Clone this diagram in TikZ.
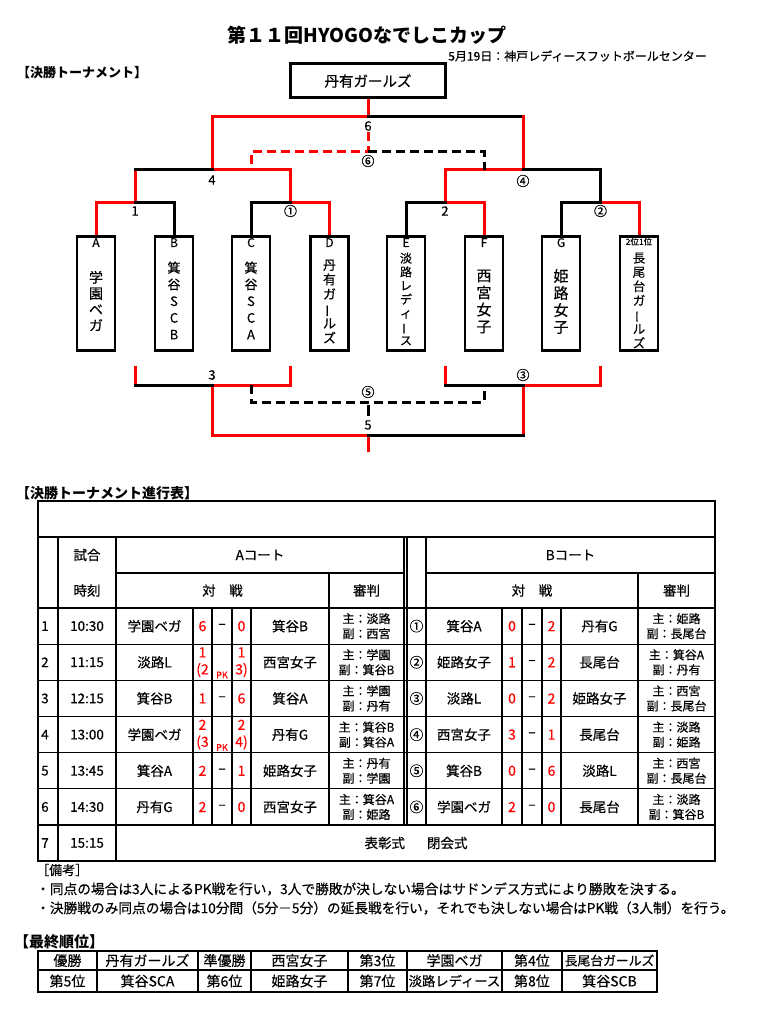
\documentclass[tikz,border=0pt]{standalone}
\usepackage{fontspec}
\setmainfont{Noto Sans CJK JP}[UprightFeatures={FakeBold=0.4}]
\usepackage{xcolor}
\usepackage{tikz}
\newcommand{\fsz}[2]{\fontsize{#1}{#2}\selectfont}
\newcommand{\vcho}{\rotatebox[origin=c]{90}{ー}}

\begin{document}
\begin{tikzpicture}[x=1pt, y=-1pt,
    win/.style={draw=red, line width=3pt, line cap=rect},
    lose/.style={draw=black, line width=3pt, line cap=rect},
    windash/.style={draw=red, line width=3pt, dash pattern=on 9pt off 5pt},
    losedash/.style={draw=black, line width=3pt, dash pattern=on 9pt off 5pt},
    team/.style={draw, line width=2.8pt, minimum width=38pt, minimum height=114pt, inner sep=0pt},
    vname/.style={align=center, inner sep=0pt},
    lbl/.style={inner sep=0pt, font=\fsz{13}{13}},
    cell/.style={inner sep=0pt, align=center, font=\fsz{13.5}{16}},
    score/.style={cell, text=red, font=\fsz{14}{17}},
    refc/.style={inner sep=0pt, align=center, font=\fsz{12}{15}},
    head/.style={inner sep=0pt, anchor=west},
    note/.style={inner sep=0pt, anchor=west, font=\fsz{13.7}{13.7}},
    frame/.style={line width=2.5pt},
    grid/.style={line width=1.2pt}]

\useasboundingbox (0,0) rectangle (761,1024);

\node[font=\bfseries\fsz{19}{19}] (title) at (367,35) {第１１回HYOGOなでしこカップ};
\node[anchor=east, inner sep=0pt, font=\fsz{12}{12}] (place) at (707,56) {5月19日：神戸レディースフットボールセンター};
\node[head, font=\bfseries\fsz{13}{13}] (hbrk) at (17,73) {【決勝トーナメント】};

\node[draw, line width=3pt, minimum width=155pt, minimum height=34pt, font=\fsz{14.5}{14.5}] (champ) at (368,81) {丹有ガールズ};

\foreach \nm/\x in {A/96, B/174, C/251, D/329.5, E/406, F/484, G/561, H/639}
    \node[team] (t\nm) at (\x,293.5) {};
\foreach \nm in {A,...,G}
    \node[lbl, font=\fsz{12}{12}] (l\nm) at ([yshift=-7.5pt]t\nm.north) {\nm};
\node[lbl, font=\fsz{8.5}{8.5}] (lH) at ([yshift=-6.5pt]tH.north) {2位1位};

\node[vname, font=\fsz{14}{16}] (nA) at (96,301) {学\\園\\ベ\\ガ};
\node[vname, font=\fsz{13}{16.7}] (nB) at (174,300.5) {箕\\谷\\S\\C\\B};
\node[vname, font=\fsz{13}{16.7}] (nC) at (251,300.5) {箕\\谷\\S\\C\\A};
\node[vname, font=\fsz{13}{14.6}] (nD) at (329.5,301.5) {丹\\有\\ガ\\\vcho\\ル\\ズ};
\node[vname, font=\fsz{12}{13.7}] (nE) at (406,299) {淡\\路\\レ\\デ\\ィ\\\vcho\\ス};
\node[vname, font=\fsz{15}{17}] (nF) at (484,301.5) {西\\宮\\女\\子};
\node[vname, font=\fsz{15}{17}] (nG) at (561,301.5) {姫\\路\\女\\子};
\node[vname, font=\fsz{12.5}{14.2}] (nH) at (639,300.5) {長\\尾\\台\\ガ\\\vcho\\ル\\ズ};

\coordinate (f6) at (368,117);
\coordinate (s4) at (212,170);
\coordinate (s4b) at (523,170);
\coordinate (m1) at (135,203);
\coordinate (m1b) at (290.5,203);
\coordinate (m2) at (445,203);
\coordinate (m2b) at (600.5,203);
\coordinate (d4) at (251,170);
\coordinate (d4b) at (484,170);
\coordinate (t6top) at (368,132);
\coordinate (t6) at (368,152);

\draw[win, shorten <=1.4pt, shorten >=1.5pt] (tD.north) |- (m1b) -- (m1b |- s4) -- (s4) -- (s4 |- f6) -- (f6) -- (champ.south);
\draw[lose] (f6) -- (f6 -| s4b);
\draw[win, shorten <=1.4pt] (tF.north) |- (m2) -- (m2 |- s4b) -- (s4b) -- (f6 -| s4b);
\draw[win, shorten <=1.4pt] (tA.north) |- (m1) -- (m1 |- s4);
\draw[lose] (m1 |- s4) -- (s4);
\draw[win, shorten <=1.4pt] (tH.north) |- (m2b);
\draw[lose, shorten <=1.4pt] (tB.north) |- (m1);
\draw[lose, shorten <=1.4pt] (tC.north) |- (m1b);
\draw[lose, shorten <=1.4pt] (tE.north) |- (m2);
\draw[lose, shorten <=1.4pt] (tG.north) |- (m2b) -- (m2b |- s4b) -- (s4b);
\draw[windash] (t6top) -- (t6) -| (d4);
\draw[losedash] (t6) -| (d4b);

\coordinate (m3) at (212,385);
\coordinate (m3b) at (523,385);
\coordinate (f5) at (368,435);
\coordinate (f5end) at (368,450);
\coordinate (e3a) at (135,367);
\coordinate (e3b) at (290.5,367);
\coordinate (e3c) at (445,367);
\coordinate (e3d) at (600.5,367);
\coordinate (t5) at (368,402);
\coordinate (t5end) at (368,416);
\coordinate (d3) at (251,385);
\coordinate (d3b) at (484,385);

\draw[win] (e3b) |- (m3) -- (m3 |- f5) -- (f5) -- (f5end);
\draw[win] (e3a) -- (e3a |- m3);
\draw[lose] (e3a |- m3) -- (m3);
\draw[win] (e3d) |- (m3b) -- (m3b |- f5);
\draw[win] (e3c) -- (e3c |- m3b);
\draw[lose] (e3c |- m3b) -- (m3b);
\draw[lose] (f5) -- (m3b |- f5);
\draw[losedash] (d3) |- (t5) -| (d3b);
\draw[lose, line cap=butt, shorten <=3pt] (t5) -- (t5end);

\node[lbl] (b6) at (368,126) {6};
\node[lbl] (b6c) at (368,161) {⑥};
\node[lbl] (b4) at (212,180) {4};
\node[lbl] (b4c) at (523,181) {④};
\node[lbl] (b1) at (135,211) {1};
\node[lbl] (b1c) at (290.5,211) {①};
\node[lbl] (b2) at (445,211) {2};
\node[lbl] (b2c) at (600.5,211) {②};
\node[lbl] (b3) at (212,375) {3};
\node[lbl] (b3c) at (523,375) {③};
\node[lbl] (b5c) at (368,392) {⑤};
\node[lbl] (b5) at (368,425) {5};

\node[head, font=\bfseries\fsz{14}{14}] (hprog) at (16,493) {【決勝トーナメント進行表】};

\draw[frame] (38,501) rectangle (715,861);
\draw[frame] (38,537) -- (715,537) (38,608) -- (715,608);
\draw[grid] (116,573) -- (404,573) (426,573) -- (715,573);
\foreach \k in {1,...,6}
    \draw[grid] (38,{608+36.17*\k}) -- (715,{608+36.17*\k});
\foreach \x in {58,116}
    \draw[grid] (\x,537) -- (\x,861);
\draw[frame] (404,537) -- (404,825);
\foreach \x in {407,426}
    \draw[grid] (\x,537) -- (\x,825);
\foreach \x in {329,638}
    \draw[grid] (\x,573) -- (\x,825);
\foreach \x in {193,212,232,251,502,522,542,561}
    \draw[grid] (\x,608) -- (\x,825);

\node[cell] (hsa) at (87,555) {試合};
\node[cell] (hjk) at (87,590.5) {時刻};
\node[cell] (hac) at (260,555) {Aコート};
\node[cell] (hbc) at (570.5,555) {Bコート};
\node[cell] (hta) at (222.5,590.5) {対　戦};
\node[cell] (hra) at (366.5,590.5) {審判};
\node[cell] (htb) at (532,590.5) {対　戦};
\node[cell] (hrb) at (676.5,590.5) {審判};

\foreach \k/\tm/\tL/\pL/\dd/\pR/\tR/\zu/\fu in {
    1/10:30/学園ベガ/6/–/0/箕谷B/淡路/西宮,
    2/11:15/淡路L/{1\\(2}/{}/{1\\3)}/西宮女子/学園/箕谷B,
    3/12:15/箕谷B/1/–/6/箕谷A/学園/丹有,
    4/13:00/学園ベガ/{2\\(3}/{}/{2\\4)}/丹有G/箕谷B/箕谷A,
    5/13:45/箕谷A/2/–/1/姫路女子/丹有/学園,
    6/14:30/丹有G/2/–/0/西宮女子/箕谷A/姫路}
{
    \pgfmathsetmacro{\yy}{608+36.17*(\k-0.5)}
    \node[cell, anchor=west] (an\k) at (41,\yy) {\k};
    \node[cell] (at\k) at (87,\yy) {\tm};
    \node[cell] (al\k) at (154.5,\yy) {\tL};
    \node[score] (as\k) at (202.5,\yy) {\pL};
    \node[cell] (ad\k) at (222,\yy) {\dd};
    \node[score] (aq\k) at (241.5,\yy) {\pR};
    \node[cell] (ar\k) at (290,\yy) {\tR};
    \node[refc] (aj\k) at (366.5,\yy) {主：\zu\\副：\fu};
}
\node[score, font=\fsz{9}{9}] (pk2) at (222,675) {PK};
\node[score, font=\fsz{9}{9}] (pk4) at (222,747.5) {PK};

\foreach \k/\cn/\tL/\pL/\pR/\tR/\zu/\fu in {
    1/①/箕谷A/0/2/丹有G/姫路/長尾台,
    2/②/姫路女子/1/2/長尾台/箕谷A/丹有,
    3/③/淡路L/0/2/姫路女子/西宮/長尾台,
    4/④/西宮女子/3/1/長尾台/淡路/姫路,
    5/⑤/箕谷B/0/6/淡路L/西宮/長尾台,
    6/⑥/学園ベガ/2/0/長尾台/淡路/箕谷B}
{
    \pgfmathsetmacro{\yy}{608+36.17*(\k-0.5)}
    \node[cell] (bn\k) at (416.5,\yy) {\cn};
    \node[cell] (bl\k) at (464,\yy) {\tL};
    \node[score] (bs\k) at (512,\yy) {\pL};
    \node[cell] (bd\k) at (532,\yy) {–};
    \node[score] (bq\k) at (551.5,\yy) {\pR};
    \node[cell] (br\k) at (599.5,\yy) {\tR};
    \node[refc] (bj\k) at (676.5,\yy) {主：\zu\\副：\fu};
}
\node[cell, anchor=west] (an7) at (41,843) {7};
\node[cell] (at7) at (87,843) {15:15};
\node[cell] (cer) at (416,843) {表彰式\hspace{22pt}閉会式};

\node[note, font=\fsz{13}{13}] (nb) at (36,870) {［備考］};
\node[note] (nt1) at (36,889) {・同点の場合は3人によるPK戦を行い，3人で勝敗が決しない場合はサドンデス方式により勝敗を決する。};
\node[note] (nt2) at (36,908) {・決勝戦のみ同点の場合は10分間（5分－5分）の延長戦を行い，それでも決しない場合はPK戦（3人制）を行う。};

\node[head, font=\bfseries\fsz{15}{15}] (hfin) at (14,942) {【最終順位】};
\draw[frame] (38,951) rectangle (657,992);
\draw[grid] (38,970) -- (657,970);
\foreach \x in {97,251,407,562}
    \draw[grid] (\x,951) -- (\x,992);
\foreach \x in {198,348,502}
    \draw[frame] (\x,951) -- (\x,992);
\foreach \x/\a/\b [count=\c] in {67.5/優勝/第5位, 147.5/丹有ガールズ/箕谷SCA, 224.5/準優勝/第6位, 299.5/西宮女子/姫路女子, 377.5/第3位/第7位, 454.5/学園ベガ/{\fsz{13.3}{13.3}淡路レディース}, 532/第4位/第8位, 609.5/{\fsz{12.8}{12.8}長尾台ガールズ}/箕谷SCB}
{
    \node[cell, font=\fsz{14}{14}] (ra\c) at (\x,960.5) {\a};
    \node[cell, font=\fsz{14}{14}] (rb\c) at (\x,981) {\b};
}
\end{tikzpicture}
\end{document}
